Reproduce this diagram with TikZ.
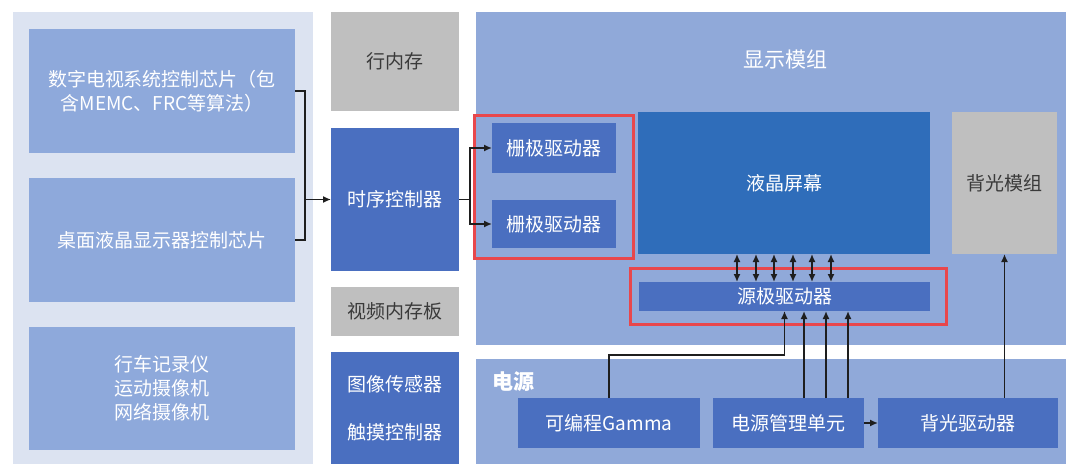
\documentclass[tikz,border=0pt]{standalone}
\usepackage{fontspec}
\setmainfont{Noto Sans CJK SC}
\usetikzlibrary{arrows.meta,calc}
\definecolor{panelbg}{HTML}{DCE3F1}
\definecolor{lightbox}{HTML}{8EA9DB}
\definecolor{darkbox}{HTML}{4A6FC0}
\definecolor{graybox}{HTML}{BFBFBF}
\definecolor{modbg}{HTML}{90A9D9}
\definecolor{lcdblue}{HTML}{2F6DBA}
\definecolor{redline}{HTML}{E8474C}
\definecolor{graytext}{HTML}{3A3A3A}
\definecolor{wire}{HTML}{1E1E1E}
\tikzset{
  blk/.style={inner sep=0pt, outer sep=0pt, align=center, text=white,
              font=\fontsize{19}{24}\selectfont},
  lightblk/.style={blk, fill=lightbox},
  darkblk/.style={blk, fill=darkbox},
  grayblk/.style={blk, fill=graybox, text=graytext},
  panel/.style={inner sep=0pt, outer sep=0pt},
  redbox/.style={inner sep=0pt, outer sep=0pt, draw=redline, line width=3pt},
  wireline/.style={draw=wire, line width=1.5pt},
  arr/.style={wireline, -{Latex[length=8pt,width=7pt]}},
  dblarr/.style={wireline, {Latex[length=8pt,width=7pt]}-{Latex[length=8pt,width=7pt]}},
}
\begin{document}
\begin{tikzpicture}[x=1pt,y=-1pt]
\useasboundingbox (0,0) rectangle (1066,464);
% left panel
\node[panel, fill=panelbg, minimum width=300pt, minimum height=452pt] (left) at (163,238) {};
\node[lightblk, minimum width=266pt, minimum height=124pt] (dtv) at (162,91) {数字电视系统控制芯片（包\\含MEMC、FRC等算法）};
\node[lightblk, minimum width=266pt, minimum height=124pt] (desk) at (162,240) {桌面液晶显示器控制芯片};
\node[lightblk, minimum width=266pt, minimum height=123pt] (cam) at (162,388.5) {行车记录仪\\运动摄像机\\网络摄像机};
% middle column
\node[grayblk, minimum width=128pt, minimum height=99pt] (linemem) at (395,61.5) {行内存};
\node[darkblk, minimum width=128pt, minimum height=143pt] (tcon) at (395,199.5) {时序控制器};
\node[grayblk, minimum width=128pt, minimum height=49pt] (vmem) at (395,311.5) {视频内存板};
\node[darkblk, minimum width=128pt, minimum height=112pt, font=\fontsize{19}{48}\selectfont] (sensor) at (395,408) {图像传感器\\触摸控制器};
% display module
\node[panel, fill=modbg, minimum width=590pt, minimum height=333pt] (disp) at (771,178.5) {};
\node[text=white, font=\fontsize{21}{24}\selectfont] (disptitle) at (785,60) {显示模组};
\node[redbox, minimum width=159pt, minimum height=143pt] (gatered) at (553.5,186.5) {};
\node[darkblk, minimum width=124pt, minimum height=50pt] (gate1) at (554,148) {栅极驱动器};
\node[darkblk, minimum width=124pt, minimum height=48pt] (gate2) at (554,224) {栅极驱动器};
\node[blk, fill=lcdblue, minimum width=292pt, minimum height=142pt] (lcd) at (784,183) {液晶屏幕};
\node[grayblk, minimum width=105pt, minimum height=142pt] (blmod) at (1004.5,183) {背光模组};
\node[redbox, minimum width=316pt, minimum height=56pt] (srcred) at (788,296) {};
\node[darkblk, minimum width=291pt, minimum height=29pt] (source) at (784.5,296.5) {源极驱动器};
% power
\node[panel, fill=modbg, minimum width=590pt, minimum height=105pt] (power) at (771,411.5) {};
\node[anchor=west, text=white, font=\fontsize{21}{24}\selectfont\bfseries, inner sep=0pt] (powertitle) at (492,382) {电源};
\node[darkblk, minimum width=182pt, minimum height=50pt] (gamma) at (609,423) {可编程Gamma};
\node[darkblk, minimum width=151pt, minimum height=50pt] (pmu) at (788.5,423) {电源管理单元};
\node[darkblk, minimum width=180pt, minimum height=50pt] (bldrv) at (968,423) {背光驱动器};
% connectors: left to timing controller
\draw[wireline] (dtv.east) -- ++(10,0) coordinate (bt) |- (desk.east);
\draw[arr] (bt |- tcon.west) -- (tcon.west);
% timing controller to gate drivers
\draw[wireline] (tcon.east) -- ++(11,0) coordinate (gj);
\draw[arr] (gj) |- (gate1.west);
\draw[arr] (gj) |- (gate2.west);
% lcd <-> source driver
\foreach \x [count=\i] in {737,756,774,793,812,831} {
  \coordinate (bx\i) at (\x,0);
  \draw[dblarr] (lcd.south -| bx\i) -- (source.north -| bx\i);
}
% gamma to source driver
\draw[arr] (gamma.north) -- ++(0,-43) -| (source.south);
% pmu to source driver
\foreach \x [count=\i] in {804,826,848} {
  \coordinate (px\i) at (\x,0);
  \draw[arr] (pmu.north -| px\i) -- (source.south -| px\i);
}
% pmu to backlight driver
\draw[arr] (pmu.east) -- (bldrv.west);
% backlight driver to backlight module
\draw[arr] (blmod.south |- bldrv.north) -- (blmod.south);
\end{tikzpicture}
\end{document}
